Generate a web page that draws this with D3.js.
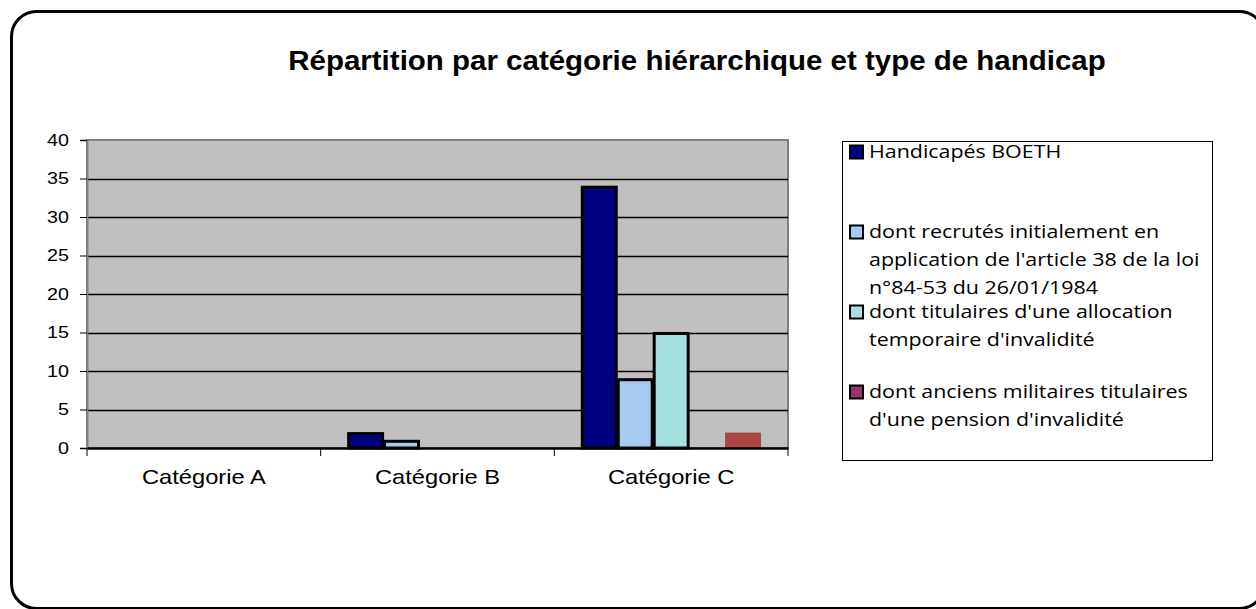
<!DOCTYPE html>
<html><head><meta charset="utf-8">
<script src="https://cdn.jsdelivr.net/npm/d3@7"></script>
<style>html,body{margin:0;padding:0;background:#fff;}svg{display:block;}</style>
</head><body>
<script>
const categories = ["Catégorie A", "Catégorie B", "Catégorie C"];
const seriesNames = [
  "Handicapés BOETH",
  "dont recrutés initialement en application de l'article 38 de la loi n°84-53 du 26/01/1984",
  "dont titulaires d'une allocation temporaire d'invalidité",
  "dont anciens militaires titulaires d'une pension d'invalidité",
  "(sans légende)"
];
const boeth = [0, 2, 34];
const recrutes = [0, 1, 9];
const titulairesATI = [0, 0, 15];
const anciensMilitaires = [0, 0, 0];
const autre = [0, 0, 2];
const yTicks = [0, 5, 10, 15, 20, 25, 30, 35, 40];
const legendLines = [
  ["Handicapés BOETH"],
  ["dont recrutés initialement en", "application de l'article 38 de la loi", "n°84-53 du 26/01/1984"],
  ["dont titulaires d'une allocation", "temporaire d'invalidité"],
  ["dont anciens militaires titulaires", "d'une pension d'invalidité"]
];
const title = "Répartition par catégorie hiérarchique et type de handicap";

const seriesValues = [boeth, recrutes, titulairesATI, anciensMilitaires, autre];
const colors = ["#000080", "#A6CAF0", "#A6E0E0", "#993366", "#AA4644"];
const strokes = [true, true, true, true, false];

const W = 1256, H = 609;
const svg = d3.select("body").append("svg").attr("width", W).attr("height", H);

// outer frame
svg.append("rect").attr("x", 11.5).attr("y", 11.5).attr("width", 1253).attr("height", 597)
  .attr("rx", 25).attr("ry", 25).attr("fill", "#fff").attr("stroke", "#000").attr("stroke-width", 3);

// title
svg.append("text").attr("transform", "translate(697,70) scale(1.053,1)").attr("text-anchor", "middle")
  .attr("font-family", "Liberation Sans, Arial, sans-serif").attr("font-weight", "bold")
  .attr("font-size", 28).attr("fill", "#000").text(title);

const plot = {l: 87, r: 788, t: 140, b: 448};
const x0 = d3.scaleBand().domain(categories).range([plot.l, plot.r]).paddingInner(0).paddingOuter(0);
const x1 = d3.scaleBand().domain(d3.range(seriesValues.length)).paddingInner(0).paddingOuter(0);
const y = d3.scaleLinear().domain([0, 40]).range([plot.b, plot.t]);

// Excel gap width 150%
const gap = x0.bandwidth() / (seriesValues.length + 1.5) * 1.5;
x1.range([gap / 2, x0.bandwidth() - gap / 2]);

// plot background
svg.append("rect").attr("x", plot.l).attr("y", plot.t).attr("width", plot.r - plot.l).attr("height", plot.b - plot.t)
  .attr("fill", "#C0C0C0").attr("stroke", "#808080").attr("stroke-width", 2);

// gridlines
svg.append("g").selectAll("line").data(yTicks.filter(d => d > 0 && d < 40)).join("line")
  .attr("x1", plot.l).attr("x2", plot.r).attr("y1", d => Math.round(y(d)) + 0.5).attr("y2", d => Math.round(y(d)) + 0.5)
  .attr("stroke", "#000").attr("stroke-width", 1.3);

// y axis
const yAxis = svg.append("g").attr("transform", `translate(${plot.l},0)`)
  .call(d3.axisLeft(y).tickValues(yTicks).tickSize(7).tickPadding(11));
yAxis.select(".domain").attr("stroke", "#808080").attr("stroke-width", 2);
yAxis.selectAll(".tick line").attr("stroke", "#000");
const ySx = 1.16;
yAxis.selectAll("text").attr("font-family", "Liberation Sans, Arial, sans-serif").attr("font-size", 17)
  .attr("fill", "#000").attr("x", -18 / ySx).attr("transform", `scale(${ySx},1)`);

// bars
const groups = svg.append("g").selectAll("g").data(categories).join("g")
  .attr("transform", d => `translate(${x0(d)},0)`);
groups.selectAll("rect").data((c, ci) => seriesValues.map((s, si) => ({si, v: s[ci]})).filter(d => d.v > 0))
  .join("rect")
  .attr("x", d => x1(d.si) + (strokes[d.si] ? 1 : 0))
  .attr("y", d => y(d.v) + (strokes[d.si] ? 1 : 0))
  .attr("width", d => x1.bandwidth() - (strokes[d.si] ? 2 : 0))
  .attr("height", d => y(0) - y(d.v) - (strokes[d.si] ? 1 : 0))
  .attr("fill", d => colors[d.si])
  .attr("stroke", d => strokes[d.si] ? "#000" : "none")
  .attr("stroke-width", 3);

// x axis
const xAxis = svg.append("g").attr("transform", `translate(0,${plot.b})`)
  .call(d3.axisBottom(x0).tickSize(0).tickPadding(0));
xAxis.select(".domain").attr("stroke", "#000").attr("stroke-width", 2.5);
xAxis.selectAll("text").attr("font-family", "Liberation Sans, Arial, sans-serif").attr("font-size", 21)
  .attr("fill", "#000").attr("y", 29).attr("dy", "0.35em").attr("transform", "scale(1.13,1)");
const bounds = [plot.l, ...categories.map(c => x0(c) + x0.bandwidth())];
svg.append("g").selectAll("line").data(bounds).join("line")
  .attr("x1", d => d).attr("x2", d => d).attr("y1", plot.b).attr("y2", plot.b + 8)
  .attr("stroke", "#000").attr("stroke-width", 1);

// legend
const lg = svg.append("g");
lg.append("rect").attr("x", 842.5).attr("y", 141.5).attr("width", 370).attr("height", 319)
  .attr("fill", "#fff").attr("stroke", "#000").attr("stroke-width", 1);
const entryY = [152, 232, 312, 392];
legendLines.forEach((lines, i) => {
  lg.append("rect").attr("x", 850).attr("y", entryY[i] - 6.5).attr("width", 13).attr("height", 13)
    .attr("fill", colors[i]).attr("stroke", "#000").attr("stroke-width", 2);
  const t = lg.append("text").attr("transform", "translate(869,0) scale(1.19,1)")
    .attr("font-family", "Open Sans, Noto Sans, sans-serif").attr("font-size", 18).attr("fill", "#000");
  lines.forEach((ln, k) => {
    t.append("tspan").attr("x", 0).attr("y", entryY[i] + k * 28).attr("dy", "0.35em").text(ln);
  });
});
</script>
</body></html>
